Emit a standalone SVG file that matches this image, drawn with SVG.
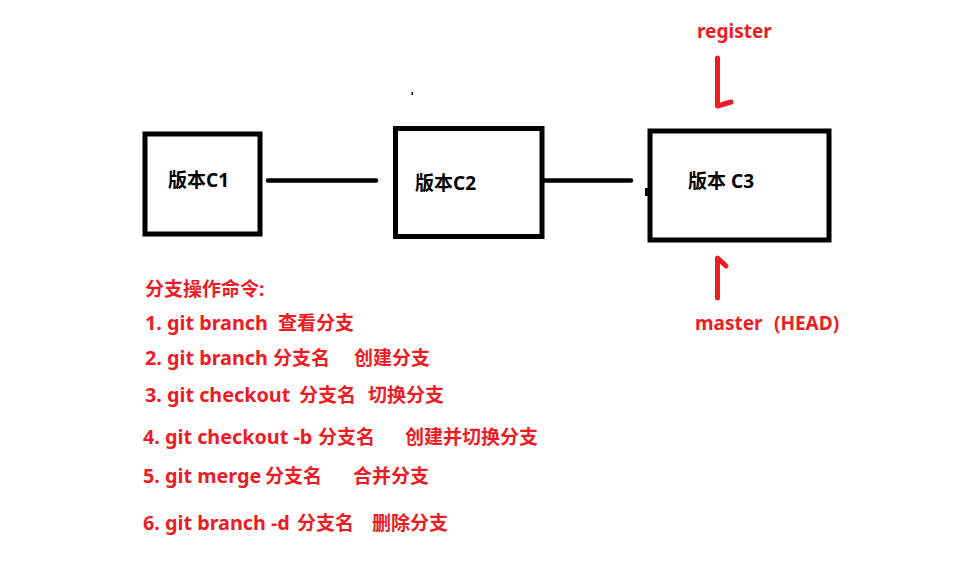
<svg xmlns="http://www.w3.org/2000/svg" width="958" height="576" viewBox="0 0 958 576">
  <style>
    .box { fill: #ffffff; stroke: #000000; stroke-width: 5; }
    .conn { stroke: #000000; stroke-width: 4.5; stroke-linecap: round; fill: none; }
    .ptr { stroke: #ed1c24; stroke-width: 5; stroke-linecap: round; stroke-linejoin: round; fill: none; }
    .lbl { font-family: "Noto Sans", "Noto Sans CJK SC", sans-serif; font-weight: bold; font-size: 19px; fill: #000000; }
    .red { font-family: "Noto Sans", "Noto Sans CJK SC", sans-serif; font-weight: bold; font-size: 19px; fill: #ed1c24; }
    .lat { font-size: 19.8px; }
  </style>
  <rect width="958" height="576" fill="#ffffff"/>

  <g id="connectors">
    <line class="conn" x1="268" y1="180.5" x2="376" y2="180.5"/>
    <line class="conn" x1="544" y1="180.5" x2="631" y2="180.5"/>
    <rect x="645" y="188" width="3" height="8" fill="#000000"/>
    <path class="ptr" d="M717.5,58 L717.5,106 L731,102"/>
    <path class="ptr" d="M717.5,298 L717.5,258 L726,266"/>
  </g>

  <rect x="411.5" y="92" width="1.5" height="3" fill="#000000"/>

  <g id="node-c1">
    <rect class="box" x="145" y="134" width="115" height="100"/>
    <text class="lbl" x="168" y="187">版本C1</text>
  </g>
  <g id="node-c2">
    <rect class="box" x="395.5" y="128.5" width="146.5" height="108"/>
    <text class="lbl" x="415" y="190">版本C2</text>
  </g>
  <g id="node-c3">
    <rect class="box" x="650" y="131" width="179" height="109"/>
    <text class="lbl" x="688" y="188">版本 C3</text>
  </g>

  <g id="label-register">
    <text class="red" x="697" y="38">register</text>
  </g>
  <g id="label-master">
    <text class="red" x="695" y="330">master<tspan x="774">(HEAD)</tspan></text>
  </g>

  <g id="commands">
    <text class="red" x="145" y="296">分支操作命令:</text>
    <text class="red" y="330"><tspan class="lat" x="145">1. git branch</tspan><tspan x="278">查看分支</tspan></text>
    <text class="red" y="365"><tspan class="lat" x="145">2. git branch</tspan><tspan x="273">分支名</tspan><tspan x="354">创建分支</tspan></text>
    <text class="red" y="402"><tspan class="lat" x="145">3. git checkout</tspan><tspan x="299">分支名</tspan><tspan x="368">切换分支</tspan></text>
    <text class="red" y="444"><tspan class="lat" x="143">4. git checkout -b</tspan><tspan x="318">分支名</tspan><tspan x="405">创建并切换分支</tspan></text>
    <text class="red" y="483"><tspan class="lat" x="143">5. git merge</tspan><tspan x="265">分支名</tspan><tspan x="353">合并分支</tspan></text>
    <text class="red" y="530"><tspan class="lat" x="143">6. git branch -d</tspan><tspan x="297">分支名</tspan><tspan x="372">删除分支</tspan></text>
  </g>
</svg>
